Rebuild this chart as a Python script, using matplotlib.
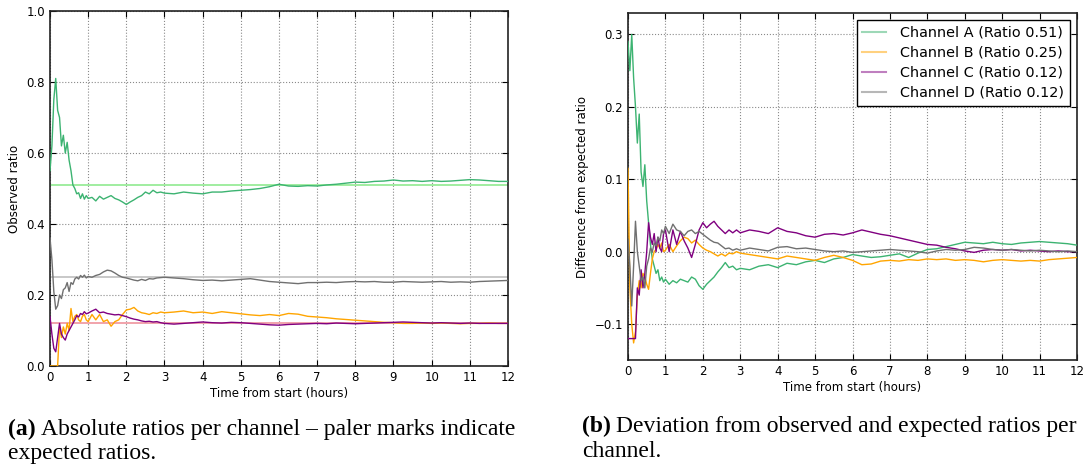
import numpy as np
import matplotlib
matplotlib.use("Agg")
import matplotlib.pyplot as plt
from matplotlib.lines import Line2D

# Sampling times (hours): dense early on, coarser later
hours = np.concatenate([
    np.round(np.arange(0.0, 1.0001, 0.05), 2),
    np.round(np.arange(1.1, 3.0001, 0.1), 2),
    np.round(np.arange(3.25, 12.0001, 0.25), 2),
])

channels = ["Channel A", "Channel B", "Channel C", "Channel D"]
legend_ratios = [0.51, 0.25, 0.12, 0.12]
expected_levels = [0.51, 0.12, 0.12, 0.25]

# Observed ratio per channel
obs_a = [0.55, 0.62, 0.75, 0.81, 0.72, 0.70, 0.62, 0.65, 0.60, 0.63, 0.58, 0.55, 0.51, 0.50, 0.485, 0.488, 0.472, 0.485, 0.470, 0.480, 0.472,
         0.475, 0.465, 0.478, 0.470, 0.475, 0.480, 0.472, 0.468, 0.462, 0.455, 0.462, 0.468, 0.475, 0.480, 0.490, 0.485, 0.495, 0.488, 0.490, 0.487,
         0.485, 0.490, 0.487, 0.485, 0.490, 0.490, 0.493, 0.495, 0.497, 0.500, 0.505, 0.512, 0.507, 0.506, 0.508, 0.507, 0.510, 0.512,
         0.515, 0.518, 0.517, 0.520, 0.521, 0.524, 0.521, 0.522, 0.520, 0.522, 0.520, 0.521, 0.523, 0.525, 0.524, 0.522, 0.520, 0.520]
obs_b = [0.0, 0.0, 0.0, 0.0, 0.0, 0.11, 0.08, 0.11, 0.09, 0.12, 0.10, 0.162, 0.125, 0.14, 0.145, 0.13, 0.125, 0.14, 0.145, 0.13, 0.125,
         0.145, 0.13, 0.145, 0.125, 0.13, 0.112, 0.125, 0.13, 0.145, 0.158, 0.16, 0.165, 0.155, 0.15, 0.148, 0.145, 0.15, 0.148, 0.152, 0.15,
         0.152, 0.155, 0.150, 0.152, 0.148, 0.153, 0.150, 0.147, 0.144, 0.142, 0.145, 0.142, 0.148, 0.146, 0.140, 0.138, 0.136, 0.133,
         0.131, 0.129, 0.127, 0.125, 0.123, 0.122, 0.120, 0.120, 0.121, 0.120, 0.121, 0.120, 0.119, 0.120, 0.120, 0.121, 0.120, 0.120]
obs_c = [0.139, 0.09, 0.05, 0.04, 0.08, 0.12, 0.09, 0.08, 0.073, 0.09, 0.10, 0.11, 0.12, 0.13, 0.142, 0.138, 0.148, 0.145, 0.153, 0.147, 0.149,
         0.155, 0.16, 0.15, 0.152, 0.148, 0.146, 0.144, 0.145, 0.142, 0.139, 0.135, 0.132, 0.13, 0.127, 0.125, 0.126, 0.124, 0.125, 0.122, 0.12,
         0.118, 0.120, 0.122, 0.124, 0.122, 0.121, 0.123, 0.122, 0.120, 0.118, 0.116, 0.115, 0.117, 0.118, 0.119, 0.120, 0.119, 0.121,
         0.120, 0.119, 0.120, 0.121, 0.122, 0.123, 0.124, 0.123, 0.122, 0.121, 0.122, 0.121, 0.120, 0.121, 0.120, 0.120, 0.120, 0.120]
obs_d = [0.36, 0.30, 0.21, 0.16, 0.17, 0.20, 0.19, 0.215, 0.22, 0.235, 0.21, 0.235, 0.23, 0.245, 0.25, 0.245, 0.255, 0.25, 0.256, 0.248, 0.252,
         0.25, 0.255, 0.258, 0.265, 0.27, 0.268, 0.262, 0.255, 0.25, 0.248, 0.245, 0.242, 0.24, 0.244, 0.241, 0.246, 0.245, 0.248, 0.249, 0.25,
         0.248, 0.246, 0.243, 0.241, 0.242, 0.240, 0.242, 0.244, 0.246, 0.242, 0.238, 0.236, 0.234, 0.232, 0.235, 0.235, 0.236, 0.235,
         0.237, 0.238, 0.237, 0.238, 0.236, 0.236, 0.238, 0.237, 0.236, 0.237, 0.238, 0.236, 0.237, 0.236, 0.238, 0.239, 0.240, 0.241]

# Deviation from expected ratio per channel
dev_a = [0.29, 0.25, 0.30, 0.24, 0.20, 0.15, 0.19, 0.11, 0.09, 0.12, 0.07, 0.04, 0.01, -0.01, -0.02, -0.03, -0.025, -0.04, -0.035, -0.042, -0.038,
         -0.045, -0.04, -0.043, -0.038, -0.04, -0.042, -0.035, -0.038, -0.047, -0.052, -0.045, -0.04, -0.035, -0.028, -0.022, -0.015, -0.022, -0.02, -0.025, -0.023,
         -0.025, -0.02, -0.018, -0.022, -0.016, -0.018, -0.014, -0.012, -0.015, -0.01, -0.008, -0.004, -0.006, -0.008, -0.007, -0.005, -0.003, -0.008,
         -0.002, 0.003, 0.004, 0.007, 0.01, 0.013, 0.012, 0.011, 0.013, 0.011, 0.01, 0.012, 0.013, 0.014, 0.013, 0.012, 0.011, 0.009]
dev_b = [0.115, -0.05, -0.10, -0.126, -0.11, -0.06, -0.04, -0.05, -0.03, -0.035, -0.045, -0.052, -0.03, -0.01, 0.0, 0.003, 0.01, 0.005, 0.012, 0.0, 0.002,
         0.01, 0.0, 0.008, 0.015, 0.02, 0.018, 0.012, 0.016, 0.01, 0.005, 0.002, 0.0, -0.003, -0.006, -0.003, -0.006, -0.002, -0.003, 0.0, -0.002,
         -0.004, -0.006, -0.008, -0.01, -0.006, -0.008, -0.01, -0.012, -0.008, -0.005, -0.008, -0.012, -0.018, -0.017, -0.013, -0.012, -0.013, -0.011,
         -0.012, -0.01, -0.011, -0.01, -0.012, -0.011, -0.012, -0.014, -0.012, -0.011, -0.012, -0.013, -0.012, -0.013, -0.011, -0.01, -0.009, -0.008]
dev_c = [-0.12, -0.12, -0.12, -0.12, -0.12, -0.05, -0.06, -0.025, -0.05, -0.03, 0.0, 0.04, 0.02, 0.01, 0.025, 0.0, 0.02, 0.005, 0.0, 0.025, 0.03,
         0.0, 0.03, 0.01, 0.028, 0.015, 0.005, -0.008, 0.01, 0.03, 0.04, 0.033, 0.038, 0.042, 0.035, 0.03, 0.025, 0.03, 0.026, 0.03, 0.026,
         0.03, 0.028, 0.025, 0.033, 0.028, 0.026, 0.022, 0.02, 0.024, 0.025, 0.023, 0.026, 0.03, 0.027, 0.024, 0.022, 0.019, 0.016,
         0.013, 0.01, 0.009, 0.006, 0.004, 0.001, -0.001, 0.002, 0.003, 0.002, 0.003, 0.001, 0.002, 0.001, 0.0, 0.001, 0.0, 0.0]
dev_d = [0.017, -0.02, -0.075, -0.02, 0.042, 0.0, -0.02, -0.04, -0.035, -0.05, -0.02, -0.01, 0.005, 0.0, 0.012, 0.008, 0.02, 0.015, 0.03, 0.025, 0.035,
         0.025, 0.038, 0.03, 0.028, 0.022, 0.028, 0.03, 0.025, 0.028, 0.024, 0.02, 0.016, 0.013, 0.012, 0.008, 0.004, 0.005, 0.002, 0.004, 0.002,
         0.005, 0.003, 0.001, 0.006, 0.007, 0.004, 0.005, 0.003, 0.001, 0.0, 0.001, -0.001, 0.0, 0.001, 0.002, 0.003, 0.002, 0.001,
         0.0, -0.002, 0.001, 0.003, 0.002, 0.003, 0.006, 0.005, 0.003, 0.002, 0.003, 0.002, 0.001, 0.002, 0.001, 0.0, 0.001, 0.0]

observed = [obs_a, obs_b, obs_c, obs_d]
deviation = [dev_a, dev_b, dev_c, dev_d]
colors = ["#3cb371", "#ffa500", "#800080", "#707070"]
pale_colors = ["#98ec98", "#ffd090", "#f0a0b0", "#c4c4c4"]

plt.rcParams.update({
    "font.family": "DejaVu Sans",
    "xtick.direction": "in",
    "ytick.direction": "in",
    "xtick.top": True,
    "ytick.right": True,
    "xtick.major.size": 4,
    "ytick.major.size": 4,
    "xtick.labelsize": 8.5,
    "ytick.labelsize": 8.5,
    "axes.labelsize": 8.5,
})

fig = plt.figure(figsize=(10.86, 4.70), dpi=100)
W, H = 1086, 470
ax1 = fig.add_axes([50 / W, 1 - 366 / H, (508 - 50) / W, (366 - 11) / H])
ax2 = fig.add_axes([628 / W, 1 - 360.3 / H, (1077 - 628) / W, (360.3 - 12.7) / H])


def style(ax):
    ax.grid(True, linestyle=":", color="#8a8a8a", linewidth=0.8)
    ax.set_axisbelow(True)
    for sp in ax.spines.values():
        sp.set_linewidth(1.2)
        sp.set_color("#222222")
    ax.set_xlim(0, 12)
    ax.set_xticks(range(0, 13))
    ax.set_xlabel("Time from start (hours)", labelpad=2)


# Panel (a): absolute ratios with expected levels
for lvl, pc in zip(expected_levels, pale_colors):
    ax1.axhline(lvl, color=pc, linewidth=1.3, zorder=2)
for vals, c in zip(observed, colors):
    ax1.plot(hours, vals, color=c, linewidth=1.0, zorder=3)
ax1.set_ylim(0, 1.0)
ax1.set_yticks([0.0, 0.2, 0.4, 0.6, 0.8, 1.0])
ax1.set_ylabel("Observed ratio")
style(ax1)

# Panel (b): deviation from expected
for vals, c in zip(deviation, colors):
    ax2.plot(hours, vals, color=c, linewidth=1.0, zorder=3)
ax2.set_ylim(-0.15, 0.33)
ax2.set_yticks([-0.1, 0.0, 0.1, 0.2, 0.3])
ax2.set_ylabel("Difference from expected ratio")
style(ax2)

handles = [Line2D([], [], color=c, alpha=0.5, linewidth=1.5) for c in colors]
labels = [f"{n} (Ratio {r:.2f})" for n, r in zip(channels, legend_ratios)]
leg = ax2.legend(handles, labels, loc="upper right", fontsize=10.4, fancybox=False,
                 framealpha=1, edgecolor="black", borderaxespad=0.5,
                 handlelength=1.6, handletextpad=1.0, labelspacing=0.42, borderpad=0.4)
leg.get_frame().set_linewidth(1.0)

# Captions
serif = "Liberation Serif"
cap_size = 17


def caption(x_px, y1_px, tag, rest, line2, y2_px):
    t = fig.text(x_px / W, 1 - y1_px / H, tag, family=serif, weight="bold",
                 fontsize=cap_size, va="baseline", ha="left")
    fig.canvas.draw()
    bb = t.get_window_extent()
    fig.text((bb.x1 + 5) / W, 1 - y1_px / H, rest, family=serif,
             fontsize=cap_size, va="baseline", ha="left")
    fig.text(x_px / W, 1 - y2_px / H, line2, family=serif,
             fontsize=cap_size, va="baseline", ha="left")


caption(8, 435, "(a)", "Absolute ratios per channel \u2013 paler marks indicate",
        "expected ratios.", 459)
caption(582, 432, "(b)", "Deviation from observed and expected ratios per",
        "channel.", 457)

fig.savefig("out.png", dpi=100)
